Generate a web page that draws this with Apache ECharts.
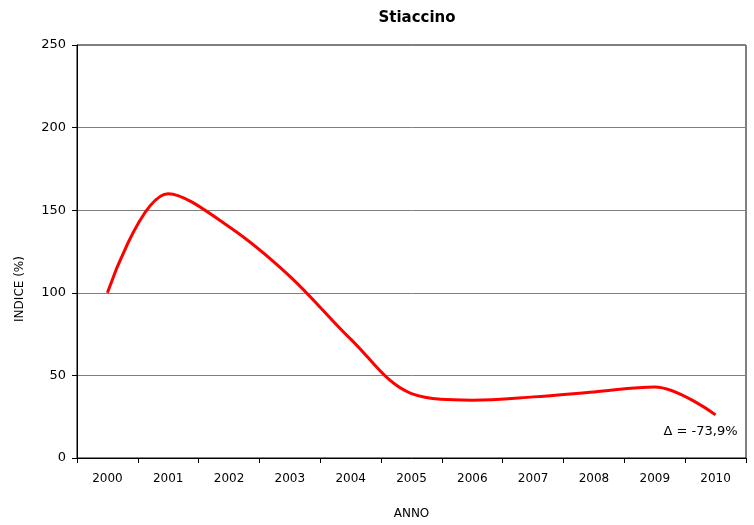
<!DOCTYPE html>
<html>
<head>
<meta charset="utf-8">
<title>Stiaccino</title>
<script src="https://cdn.jsdelivr.net/npm/echarts@6/dist/echarts.min.js"></script>
<style>
  html, body { margin: 0; padding: 0; background: #fff; }
  #chart { width: 754px; height: 525px; }
</style>
</head>
<body>
<div id="chart"></div>
<script>
// Annual index values (base year 2000 = 100)
const years = ['2000', '2001', '2002', '2003', '2004', '2005', '2006', '2007', '2008', '2009', '2010'];
const indexValues = [100, 160, 140, 110, 72, 39, 35, 37, 40, 43, 26.1];
const yTicks = [0, 50, 100, 150, 200, 250];

const FONT = '"DejaVu Sans", Verdana, sans-serif';

// Overall change from first to last year, shown as "Δ = x,y%"
const first = indexValues[0];
const last = indexValues[indexValues.length - 1];
const deltaPct = ((last / first) - 1) * 100;
const deltaText = 'Δ = ' + deltaPct.toFixed(1).replace('.', ',') + '%';

const chart = echarts.init(document.getElementById('chart'), null, { renderer: 'canvas' });

chart.setOption({
  animation: false,
  backgroundColor: '#ffffff',
  title: {
    text: 'Stiaccino',
    left: 412,
    textAlign: 'center',
    top: 6,
    textStyle: { fontFamily: FONT, fontSize: 15, fontWeight: 'bold', color: '#000' }
  },
  grid: {
    left: 77, right: 8, top: 45, bottom: 66,
    show: true, borderColor: '#000', borderWidth: 1, backgroundColor: 'transparent'
  },
  xAxis: {
    type: 'category',
    data: years,
    boundaryGap: true,
    name: 'ANNO',
    nameLocation: 'middle',
    nameGap: 50,
    nameTextStyle: { fontFamily: FONT, fontSize: 12, color: '#000' },
    axisLine: { lineStyle: { color: '#000', width: 1 } },
    axisTick: { show: true, length: 5, inside: false, lineStyle: { color: '#000' } },
    axisLabel: { fontFamily: FONT, fontSize: 12, color: '#000', margin: 15 },
    splitLine: { show: false }
  },
  yAxis: {
    type: 'value',
    min: yTicks[0],
    max: yTicks[yTicks.length - 1],
    interval: yTicks[1] - yTicks[0],
    axisLine: { show: true, lineStyle: { color: '#000', width: 1 } },
    axisTick: { show: true, length: 5, inside: false, lineStyle: { color: '#000' } },
    axisLabel: { fontFamily: FONT, fontSize: 13, color: '#000', margin: 11 },
    splitLine: { show: true, lineStyle: { color: '#7f7f7f', width: 1 } }
  },
  series: [{
    type: 'line',
    data: indexValues,
    smooth: 0.35,
    showSymbol: false,
    symbol: 'none',
    lineStyle: { color: '#ff0000', width: 3 },
    itemStyle: { color: '#ff0000' }
  }]
});

// Axis title and the overall-change note, placed from the chart's own scales
const lastPt = chart.convertToPixel({ seriesIndex: 0 }, [years.length - 1, last]);
chart.setOption({
  graphic: [
    {
      type: 'text',
      x: 20, y: 289,
      rotation: Math.PI / 2,
      style: {
        text: 'INDICE (%)',
        font: '12px ' + FONT,
        fill: '#000',
        align: 'center',
        verticalAlign: 'middle'
      }
    },
    {
      type: 'text',
      x: lastPt[0] + 22,
      y: lastPt[1] + 17,
      style: {
        text: deltaText,
        font: '13px ' + FONT,
        fill: '#000',
        align: 'right',
        verticalAlign: 'middle'
      }
    }
  ]
});
</script>
</body>
</html>
